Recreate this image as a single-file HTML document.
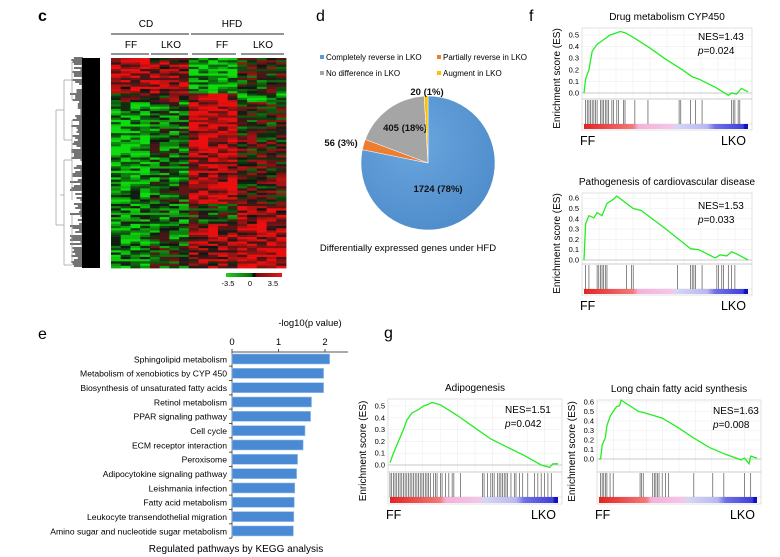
<!DOCTYPE html>
<html><head><meta charset="utf-8">
<style>
html,body{margin:0;padding:0;background:#fff;}
svg{display:block;font-family:"Liberation Sans",Arial,sans-serif;}
</style></head>
<body>
<svg id="fig" width="780" height="557" viewBox="0 0 780 557" xmlns="http://www.w3.org/2000/svg">
<defs>
<linearGradient id="hmScale" x1="0" x2="1"><stop offset="0" stop-color="#1fd11f"/><stop offset="0.45" stop-color="#0a6a0a"/><stop offset="0.5" stop-color="#000"/><stop offset="0.55" stop-color="#7a0a0a"/><stop offset="1" stop-color="#e81818"/></linearGradient>
<linearGradient id="rankBar" x1="0" x2="1"><stop offset="0" stop-color="#e52222"/><stop offset="0.3" stop-color="#f37a7a"/><stop offset="0.33" stop-color="#f5b0d8"/><stop offset="0.54" stop-color="#f3c7e8"/><stop offset="0.56" stop-color="#d6d6f5"/><stop offset="0.75" stop-color="#b8b8f0"/><stop offset="0.8" stop-color="#7070e8"/><stop offset="0.97" stop-color="#4040dd"/><stop offset="0.98" stop-color="#1010c0"/><stop offset="1" stop-color="#1010c0"/></linearGradient>
<radialGradient id="pieBlue" cx="0.4" cy="0.35" r="0.8"><stop offset="0" stop-color="#6aa6de"/><stop offset="1" stop-color="#4a88c8"/></radialGradient>
</defs>
<g id="panelC">
 <text x="38" y="21" font-size="16" font-weight="bold">c</text>
 <text x="146" y="27" font-size="10" text-anchor="middle">CD</text>
 <text x="232" y="27" font-size="10" text-anchor="middle">HFD</text>
 <line x1="111" y1="34" x2="189" y2="34" stroke="#555" stroke-width="1.2"/>
 <line x1="191" y1="34" x2="284" y2="34" stroke="#555" stroke-width="1.2"/>
 <text x="131" y="48" font-size="10" text-anchor="middle">FF</text>
 <text x="171" y="48" font-size="10" text-anchor="middle">LKO</text>
 <text x="222" y="48" font-size="10" text-anchor="middle">FF</text>
 <text x="263" y="48" font-size="10" text-anchor="middle">LKO</text>
 <line x1="111" y1="54" x2="149" y2="54" stroke="#555" stroke-width="1.2"/>
 <line x1="151" y1="54" x2="188" y2="54" stroke="#555" stroke-width="1.2"/>
 <line x1="192" y1="54" x2="236" y2="54" stroke="#555" stroke-width="1.2"/>
 <line x1="241" y1="54" x2="284" y2="54" stroke="#555" stroke-width="1.2"/>
 <g id="dendro"></g>
 <g id="heat"></g>
 <rect x="226" y="273" width="56" height="4" fill="url(#hmScale)"/>
 <text x="228" y="286" font-size="7.5" text-anchor="middle">-3.5</text>
 <text x="250" y="286" font-size="7.5" text-anchor="middle">0</text>
 <text x="273" y="286" font-size="7.5" text-anchor="middle">3.5</text>
</g>
<g id="panelD">
 <text x="316" y="21" font-size="16">d</text>
 <g font-size="8">
  <rect x="320" y="55" width="4" height="4" fill="#5b9bd5"/><text x="326" y="60">Completely reverse in LKO</text>
  <rect x="437" y="55" width="4" height="4" fill="#ed7d31"/><text x="443" y="60">Partially reverse in LKO</text>
  <rect x="320" y="71" width="4" height="4" fill="#a5a5a5"/><text x="326" y="76">No difference in LKO</text>
  <rect x="437" y="71" width="4" height="4" fill="#ffc000"/><text x="443" y="76">Augment in LKO</text>
 </g>
 <g id="pie"></g>
 <text x="408" y="251" font-size="9.5" text-anchor="middle">Differentially expressed genes under HFD</text>
</g>
<g id="panelE">
 <text x="38" y="339" font-size="16">e</text>
 <text x="310" y="326" font-size="9.5" text-anchor="middle">-log10(p value)</text>
 <g id="bars"></g>
 <text x="236" y="552" font-size="10" text-anchor="middle">Regulated pathways by KEGG analysis</text>
</g>
<text x="529" y="21" font-size="16">f</text>
<text x="384" y="338" font-size="16">g</text>
<g id="gseaAll"></g>
</svg>
<script>
// ---------- Heatmap data (block means per column group: CD-FF, CD-LKO, HFD-FF, HFD-LKO) ----------
const heatBlockRows = [8, 8, 4, 12, 12, 12, 10, 9, 10, 10];
const heatBlockMeans = [
 [2.5, 1.5, -3, 0.2],
 [2.0, 2.2, -2.5, -0.3],
 [0.5, 0.5, 2.5, -2.5],
 [-2.5, -1.5, 3, 0],
 [-2.8, -1.2, 2.6, 0.3],
 [-2.5, -1.5, 2.2, 0.6],
 [-2.2, -0.8, 2.8, 0.4],
 [-1.8, -1.5, -0.5, 2.0],
 [-2.2, -1.2, 1.8, 2.2],
 [-2.0, -0.5, 1.5, 2.8]
];
const heatGroupCols = [4, 4, 5, 5];
const heatNoise = "31415926535897932384626433832795028841971693993751058209749445923078164062862089986280348253421170679";
// ---------- Pie data ----------
const pieValues = [1724, 56, 405, 20];
const pieLabels = ["1724 (78%)", "56 (3%)", "405 (18%)", "20 (1%)"];
const pieColors = ["url(#pieBlue)", "#ed7d31", "#a5a5a5", "#ffc000"];
// ---------- Bar chart data ----------
const barCategories = ["Sphingolipid metabolism","Metabolism of xenobiotics by CYP 450","Biosynthesis of unsaturated fatty acids","Retinol metabolism","PPAR signaling pathway","Cell cycle","ECM receptor interaction","Peroxisome","Adipocytokine signaling pathway","Leishmania infection","Fatty acid metabolism","Leukocyte transendothelial migration","Amino sugar and nucleotide sugar metabolism"];
const barValues = [2.1, 1.97, 1.97, 1.71, 1.69, 1.57, 1.53, 1.41, 1.39, 1.35, 1.34, 1.33, 1.32];
const barTicks = [0, 1, 2];
// ---------- GSEA data ----------
const drugRank = [0,0.01,0.03,0.05,0.08,0.12,0.16,0.2,0.22,0.25,0.3,0.4,0.5,0.6,0.66,0.7,0.8,0.88,0.9,0.93,0.96,1];
const drugES = [0,0.12,0.2,0.36,0.42,0.46,0.5,0.52,0.53,0.52,0.48,0.39,0.29,0.2,0.14,0.12,0.05,-0.02,0.0,-0.01,0.04,0.01];
const drugHits = [0.01,0.02,0.03,0.04,0.05,0.06,0.07,0.08,0.1,0.11,0.12,0.13,0.14,0.15,0.17,0.18,0.2,0.21,0.24,0.25,0.31,0.39,0.58,0.59,0.65,0.68,0.72,0.9,0.91,0.92,0.94,0.95];
const cardioRank = [0,0.01,0.03,0.06,0.08,0.11,0.14,0.16,0.18,0.2,0.3,0.35,0.5,0.65,0.7,0.8,0.83,0.87,0.9,0.93,1];
const cardioES = [0,0.35,0.43,0.41,0.46,0.43,0.55,0.57,0.59,0.62,0.5,0.48,0.3,0.11,0.1,0.02,0.05,0.04,0.08,0.06,0.0];
const cardioHits = [0.01,0.03,0.08,0.09,0.1,0.11,0.12,0.13,0.14,0.26,0.29,0.3,0.57,0.65,0.66,0.67,0.68,0.72,0.81,0.82,0.84,0.85,0.88,0.9,0.92];
const adipoRank = [0,0.02,0.05,0.08,0.1,0.13,0.17,0.2,0.22,0.25,0.3,0.4,0.5,0.6,0.7,0.8,0.9,0.95,0.97,1];
const adipoES = [0.02,0.1,0.2,0.3,0.38,0.44,0.47,0.5,0.51,0.53,0.51,0.42,0.32,0.22,0.15,0.08,0.0,-0.02,0.01,0.01];
const adipoHits = [0.0,0.01,0.02,0.03,0.04,0.05,0.06,0.07,0.08,0.09,0.1,0.11,0.12,0.13,0.14,0.15,0.16,0.17,0.18,0.19,0.2,0.21,0.22,0.23,0.24,0.26,0.27,0.28,0.3,0.31,0.33,0.35,0.37,0.38,0.42,0.55,0.56,0.58,0.6,0.61,0.62,0.64,0.65,0.66,0.67,0.68,0.69,0.7,0.72,0.74,0.75,0.77,0.79,0.82,0.86,0.88,0.9,0.92,0.94,0.96];
const longRank = [0,0.01,0.02,0.04,0.05,0.07,0.09,0.11,0.13,0.14,0.25,0.28,0.3,0.4,0.5,0.6,0.7,0.8,0.9,0.92,0.95,0.96,1];
const longES = [0,0.0,0.15,0.22,0.35,0.45,0.5,0.55,0.56,0.62,0.5,0.49,0.48,0.43,0.33,0.22,0.12,0.05,-0.01,0.01,-0.05,0.03,0.01];
const longHits = [0.01,0.02,0.03,0.04,0.05,0.07,0.09,0.26,0.27,0.28,0.34,0.35,0.36,0.37,0.38,0.4,0.42,0.44,0.6,0.72,0.79,0.92,0.96];

const NS = "http://www.w3.org/2000/svg";
function mk(tag, attrs, parent){const e=document.createElementNS(NS,tag);for(const k in attrs)e.setAttribute(k,attrs[k]);parent.appendChild(e);return e;}

// ---------- Heatmap ----------
(function(){
 const g=document.getElementById('heat');
 const x0=111,x1=286,y0=58,y1=268;
 const totalRows=heatBlockRows.reduce((a,b)=>a+b,0);
 const totalCols=heatGroupCols.reduce((a,b)=>a+b,0);
 const rh=(y1-y0)/totalRows, cw=(x1-x0)/totalCols;
 function col(v){v=Math.max(-3.5,Math.min(3.5,v));if(v>=0){const t=v/3.5;return `rgb(${Math.round(20+t*215)},${Math.round(10*(1-t))+15},${Math.round(10*(1-t))+15})`;}const t=-v/3.5;return `rgb(15,${Math.round(20+t*200)},15)`;}
 let r=0,n=0;
 heatBlockRows.forEach((cnt,b)=>{
  for(let i=0;i<cnt;i++){
   let c=0;
   heatGroupCols.forEach((gc,gi)=>{
    for(let j=0;j<gc;j++){
     const d=+heatNoise[(n*7+c*3)%heatNoise.length]; n++;
     const v=heatBlockMeans[b][gi]+(d-4.5)*0.45;
     const rc=mk('rect',{x:(x0+c*cw).toFixed(2),y:(y0+r*rh).toFixed(2),width:(cw+0.4).toFixed(2),height:(rh+0.4).toFixed(2),fill:col(v)},g);
     
     
     c++;
    }
   });
   r++;
  }
 });
 const d=document.getElementById('dendro');
 const leaf=mk('rect',{x:82,y:58,width:18,height:210,fill:'#000'},d);
 
 
 for(let i=0;i<105;i++){const dd=+heatNoise[(i*3)%heatNoise.length];mk('line',{x1:70+dd*1.3,y1:58+i*2,x2:83,y2:58+i*2,stroke:'#000','stroke-width':1.1},d);}
 const gl=[[56,110,56,225],[56,110,64,110],[56,225,64,225],[64,80,64,140],[64,160,64,265],[64,80,72,80],[64,140,72,140],[64,160,72,160],[64,265,72,265],[60,195,64,195],[72,62,72,100],[72,120,72,200],[72,215,72,262]];
 gl.forEach(l=>mk('line',{x1:l[0],y1:l[1],x2:l[2],y2:l[3],stroke:'#999','stroke-width':0.7},d));
})();

// ---------- Pie ----------
(function(){
 const g=document.getElementById('pie');
 const cx=428,cy=163,R=67;
 const tot=pieValues.reduce((a,b)=>a+b,0);
 let a=0;
 const labelPos=[[438,192],[341,146],[405,131],[427,95]];
 pieValues.forEach((v,i)=>{
  const a0=a/tot*2*Math.PI, a1=(a+v)/tot*2*Math.PI; a+=v;
  const p0=[cx+R*Math.sin(a0),cy-R*Math.cos(a0)], p1=[cx+R*Math.sin(a1),cy-R*Math.cos(a1)];
  const large=(a1-a0)>Math.PI?1:0;
  const s=mk('path',{d:`M${cx},${cy}L${p0[0]},${p0[1]}A${R},${R} 0 ${large} 1 ${p1[0]},${p1[1]}Z`,fill:pieColors[i],stroke:'#fff','stroke-width':0.5},g);
  
  
  const t=mk('text',{x:labelPos[i][0],y:labelPos[i][1],'font-size':9.5,'font-weight':'bold','text-anchor':'middle',fill:'#111'},g);
  t.textContent=pieLabels[i];
  
  
 });
})();

// ---------- Bars ----------
(function(){
 const g=document.getElementById('bars');
 const x0=232, ppu=46.5, yAxis=352, y0=359, step=14.33, bh=10;
 const xs=v=>x0+v*ppu;
 mk('line',{x1:x0,y1:yAxis,x2:348,y2:yAxis,stroke:'#555','stroke-width':1},g);
 mk('line',{x1:x0,y1:yAxis,x2:x0,y2:538,stroke:'#555','stroke-width':1},g);
 barTicks.forEach(t=>{
  mk('line',{x1:xs(t),y1:yAxis-3,x2:xs(t),y2:yAxis,stroke:'#555'},g);
  const tx=mk('text',{x:xs(t),y:yAxis-7,'font-size':9.5,'text-anchor':'middle'},g);
  tx.textContent=t;
  
  
 });
 barCategories.forEach((c,i)=>{
  const yc=y0+i*step;
  const b=mk('rect',{x:x0,y:yc-bh/2,width:barValues[i]*ppu,height:bh,fill:'#4a8ad4',stroke:'#9cc2ea','stroke-width':0.6},g);
  
  
  mk('line',{x1:x0-3,y1:yc+step/2,x2:x0,y2:yc+step/2,stroke:'#555'},g);
  const t=mk('text',{x:x0-5,y:yc+3.3,'font-size':8.6,'text-anchor':'end'},g);
  t.textContent=c;
  
  
 });
})();

// ---------- GSEA ----------
function gsea(o){
 const root=document.getElementById('gseaAll');
 const g=mk('g',{},root);
 
 
 const {x0,x1,top,zero,ppu,boxBot,rugBot,barBot}=o;
 const xs=r=>x0+2+r*(x1-x0-6), ys=v=>zero-v*ppu;
 const tt=mk('text',{x:(x0+x1)/2,y:top-8,'font-size':10,'text-anchor':'middle'},g);
 tt.textContent=o.title;
 
 
 mk('rect',{x:x0,y:top,width:x1-x0,height:barBot+1-top,fill:'#fff',stroke:'#ccc','stroke-width':0.6},g);
 for(let i=1;i<10;i++){const x=x0+i*(x1-x0)/10;mk('line',{x1:x,y1:top,x2:x,y2:boxBot,stroke:'#eee','stroke-width':0.6},g);}
 o.ticks.forEach(t=>{
  mk('line',{x1:x0,y1:ys(t),x2:x1,y2:ys(t),stroke:'#eee','stroke-width':0.6},g);
  const l=mk('text',{x:x0-3,y:ys(t)+2.5,'font-size':7.5,'text-anchor':'end'},g);
  l.textContent=t.toFixed(1);
  
  
 });
 mk('line',{x1:x0,y1:ys(0),x2:x1,y2:ys(0),stroke:'#bbb','stroke-width':0.7},g);
 mk('line',{x1:x0,y1:boxBot,x2:x1,y2:boxBot,stroke:'#bbb','stroke-width':0.7},g);
 mk('line',{x1:x0,y1:rugBot,x2:x1,y2:rugBot,stroke:'#ccc','stroke-width':0.6},g);
 const pts=o.rank.map((r,i)=>xs(r).toFixed(1)+','+ys(o.es[i]).toFixed(1)).join(' ');
 const pl=mk('polyline',{points:pts,fill:'none',stroke:'#22ee22','stroke-width':1.3},g);
 
 
 o.hits.forEach(h=>{
  const ln=mk('line',{x1:xs(h),y1:boxBot+1,x2:xs(h),y2:rugBot,stroke:'#555','stroke-width':0.7},g);
  
  
 });
 mk('rect',{x:x0+2,y:rugBot,width:x1-x0-6,height:barBot-rugBot,fill:'url(#rankBar)'},g);
 const yl=mk('text',{x:0,y:0,'font-size':10,'text-anchor':'middle',transform:`translate(${x0-22},${(top+barBot)/2}) rotate(-90)`},g);
 yl.textContent='Enrichment score (ES)';
 
 
 const n1=mk('text',{x:o.nesX,y:top+o.nesDy,'font-size':10},g);
 n1.textContent='NES='+o.nes;
 
 
 const n2=mk('text',{x:o.nesX,y:top+o.nesDy+14,'font-size':10},g);
 n2.innerHTML='<tspan font-style="italic">p</tspan>='+o.p;
 
 
 const ff=mk('text',{x:x0-2,y:barBot+16,'font-size':12.5},g);
 ff.textContent='FF';
 
 
 const lk=mk('text',{x:x1-6,y:barBot+16,'font-size':12.5,'text-anchor':'end'},g);
 lk.textContent='LKO';
 
 
}
gsea({name:'gsea-drug-metabolism',title:'Drug metabolism CYP450',x0:582,x1:752,top:28,zero:93,ppu:116,boxBot:99,rugBot:124,barBot:129,ticks:[0,0.1,0.2,0.3,0.4,0.5],rank:drugRank,es:drugES,hits:drugHits,nes:'1.43',p:'0.024',nesX:698,nesDy:12});
gsea({name:'gsea-cardiovascular',title:'Pathogenesis of cardiovascular disease',x0:582,x1:752,top:193,zero:260,ppu:103,boxBot:264,rugBot:289,barBot:294,ticks:[0,0.1,0.2,0.3,0.4,0.5,0.6],rank:cardioRank,es:cardioES,hits:cardioHits,nes:'1.53',p:'0.033',nesX:698,nesDy:16});
gsea({name:'gsea-adipogenesis',title:'Adipogenesis',x0:388,x1:562,top:399,zero:465,ppu:118,boxBot:472,rugBot:497,barBot:503,ticks:[0,0.1,0.2,0.3,0.4,0.5],rank:adipoRank,es:adipoES,hits:adipoHits,nes:'1.51',p:'0.042',nesX:505,nesDy:14});
gsea({name:'gsea-long-chain-fatty-acid',title:'Long chain fatty acid synthesis',x0:597,x1:761,top:400,zero:459,ppu:95,boxBot:472,rugBot:497,barBot:503,ticks:[0,0.1,0.2,0.3,0.4,0.5,0.6],rank:longRank,es:longES,hits:longHits,nes:'1.63',p:'0.008',nesX:713,nesDy:14});
</script>
</body></html>
